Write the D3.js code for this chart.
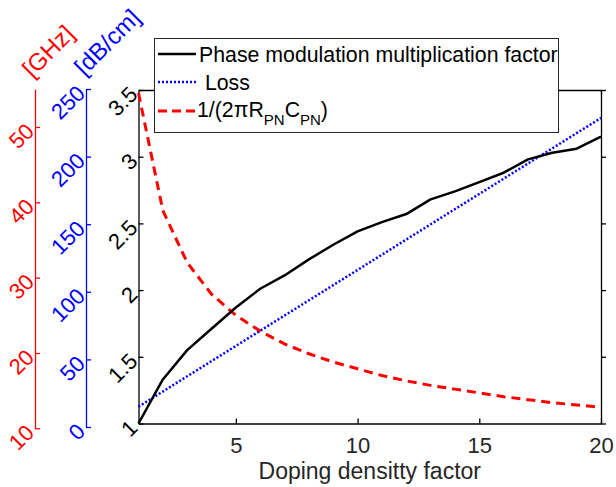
<!DOCTYPE html>
<html>
<head>
<meta charset="utf-8">
<script src="https://cdn.jsdelivr.net/npm/d3@7"></script>
<style>
  body { margin: 0; background: #fff; }
  svg { display: block; font-family: "Liberation Sans", Arial, sans-serif; }
</style>
</head>
<body>
<svg id="svg" width="616" height="487"></svg>
<script>
const w = 616;
const h = 487;

// doping density factor
const doping = [1, 2, 3, 4, 5, 6, 7, 8, 9, 10, 11, 12, 13, 14, 15, 16, 17, 18, 19, 20];
// phase modulation multiplication factor (left black axis)
const phaseFactor = [1.0, 1.33, 1.55, 1.71, 1.87, 2.01, 2.11, 2.23, 2.34, 2.44,
  2.51, 2.57, 2.68, 2.74, 2.81, 2.88, 2.98, 3.03, 3.06, 3.15];
// loss [dB/cm] (blue axis), straight line
const lossDoping = [1, 20];
const lossDb = [15, 228.6];
// 1/(2 pi R C) [GHz] (red axis)
const rcGHz = [54.5, 38.9, 32.0, 27.8, 25.0, 22.9, 21.2, 19.9, 18.8, 17.9,
  17.0, 16.3, 15.7, 15.2, 14.7, 14.2, 13.8, 13.4, 13.1, 12.8];

const xTicks = [5, 10, 15, 20];
const blackTicks = [1, 1.5, 2, 2.5, 3, 3.5];
const blueTicks = [0, 50, 100, 150, 200, 250];
const redTicks = [10, 20, 30, 40, 50];

const legendLabels = ["Phase modulation multiplication factor", " Loss"];

let svg = d3.select("#svg");

const plotLeft = 138.5, plotRight = 601, plotTop = 90, plotBottom = 423.5;

let xScale = d3.scaleLinear([1, 20], [plotLeft, plotRight]);
let yBlack = d3.scaleLinear([1, 3.5], [plotBottom, plotTop]);
let yBlue = d3.scaleLinear([0, 250], [427, 89]);
let yRed = d3.scaleLinear([10, 55], [428.3, 89.3]);

const fontSize = 22;

// rotated left-side axis
const sideAxis = (scale, ticks, xPos, color) => {
  const g = svg.append("g")
    .attr("transform", `translate(${xPos},0)`)
    .call(d3.axisRight(scale).tickValues(ticks).tickFormat((d) => d).tickSize(5).tickSizeOuter(0));
  g.select(".domain").attr("stroke", color).attr("stroke-width", 1.3);
  g.selectAll(".tick line").attr("stroke", color).attr("stroke-width", 1.3);
  g.selectAll(".tick text")
    .attr("x", null)
    .attr("dy", null)
    .attr("fill", color)
    .attr("font-size", fontSize)
    .attr("font-family", "Liberation Sans, Arial, sans-serif")
    .attr("text-anchor", "end")
    .attr("dominant-baseline", "central")
    .attr("transform", "translate(-5,0) rotate(-45)");
  return g;
};

sideAxis(yRed, redTicks, 35, "#ff0000");
sideAxis(yBlue, blueTicks, 86, "#0000ff");
sideAxis(yBlack, blackTicks, plotLeft, "#000");

// box: top and right edges with inward ticks
svg.append("g")
  .attr("transform", `translate(0,${plotTop})`)
  .call(d3.axisTop(xScale).tickValues(xTicks).tickFormat("").tickSize(-5).tickSizeOuter(0))
  .call((g) => g.selectAll("line, path").attr("stroke", "#000").attr("stroke-width", 1.3));

svg.append("g")
  .attr("transform", `translate(${plotRight},0)`)
  .call(d3.axisLeft(yBlack).tickValues(blackTicks).tickFormat("").tickSize(-5).tickSizeOuter(0))
  .call((g) => g.selectAll("line, path").attr("stroke", "#000").attr("stroke-width", 1.3));

// bottom axis
const xAxis = svg.append("g")
  .attr("transform", `translate(0,${plotBottom})`)
  .call(d3.axisBottom(xScale).tickValues(xTicks).tickSize(-5).tickSizeOuter(0));
xAxis.selectAll("line, path").attr("stroke", "#000").attr("stroke-width", 1.3);
xAxis.selectAll(".tick text")
  .attr("y", 29.5)
  .attr("dy", null)
  .attr("fill", "#262626")
  .attr("font-size", fontSize)
  .attr("font-family", "Liberation Sans, Arial, sans-serif");

svg.append("text")
  .attr("x", (plotLeft + plotRight) / 2)
  .attr("y", 479)
  .attr("text-anchor", "middle")
  .attr("fill", "#262626")
  .attr("font-size", 23)
  .text("Doping densitty factor");

// axis titles
svg.append("text")
  .attr("transform", "translate(48,51) rotate(-45)")
  .attr("text-anchor", "middle")
  .attr("dominant-baseline", "central")
  .attr("fill", "#ff0000")
  .attr("font-size", 24)
  .text("[GHz]");

svg.append("text")
  .attr("transform", "translate(107,42) rotate(-45)")
  .attr("text-anchor", "middle")
  .attr("dominant-baseline", "central")
  .attr("fill", "#0000ff")
  .attr("font-size", 24)
  .text("[dB/cm]");

// lines
let lineBlack = d3.line().x((d, i) => xScale(doping[i])).y((d) => yBlack(d));
let lineBlue = d3.line().x((d, i) => xScale(lossDoping[i])).y((d) => yBlue(d));
let lineRed = d3.line().x((d, i) => xScale(doping[i])).y((d) => yRed(d));

svg.append("path")
  .datum(lossDb)
  .attr("fill", "none")
  .attr("stroke", "#0000ff")
  .attr("stroke-width", 2.5)
  .attr("stroke-dasharray", "2,2")
  .attr("d", lineBlue);

svg.append("path")
  .datum(rcGHz)
  .attr("fill", "none")
  .attr("stroke", "#ff0000")
  .attr("stroke-width", 3)
  .attr("stroke-dasharray", "9,6")
  .attr("d", lineRed);

svg.append("path")
  .datum(phaseFactor)
  .attr("fill", "none")
  .attr("stroke", "#000")
  .attr("stroke-width", 2.5)
  .attr("stroke-linejoin", "round")
  .attr("d", lineBlack);

// legend
const legend = svg.append("g");
legend.append("rect")
  .attr("x", 154.5)
  .attr("y", 38.5)
  .attr("width", 404)
  .attr("height", 94)
  .attr("fill", "#fff")
  .attr("stroke", "#262626")
  .attr("stroke-width", 1);

const rowY = [54, 82, 111];
const styles = [
  { color: "#000", dash: null, width: 2.5 },
  { color: "#0000ff", dash: "2,2", width: 2.5 },
  { color: "#ff0000", dash: "9,5", width: 3 },
];

styles.forEach((s, i) => {
  legend.append("line")
    .attr("x1", 158)
    .attr("x2", 196)
    .attr("y1", rowY[i])
    .attr("y2", rowY[i])
    .attr("stroke", s.color)
    .attr("stroke-width", s.width)
    .attr("stroke-dasharray", s.dash);
});

legendLabels.forEach((t, i) => {
  legend.append("text")
    .attr("x", 199)
    .attr("y", rowY[i] + 7.5)
    .attr("font-size", 21.3)
    .attr("fill", "#000")
    .style("white-space", "pre")
    .text(t);
});

const rcText = legend.append("text")
  .attr("x", 197)
  .attr("y", rowY[2] + 6)
  .attr("font-size", 21.3)
  .attr("fill", "#000");
rcText.append("tspan").text("1/(2\u03c0R");
rcText.append("tspan").attr("dy", 8).attr("font-size", 15).text("PN");
rcText.append("tspan").attr("dy", -8).text("C");
rcText.append("tspan").attr("dy", 8).attr("font-size", 15).text("PN");
rcText.append("tspan").attr("dy", -8).text(")");
</script>
</body>
</html>
